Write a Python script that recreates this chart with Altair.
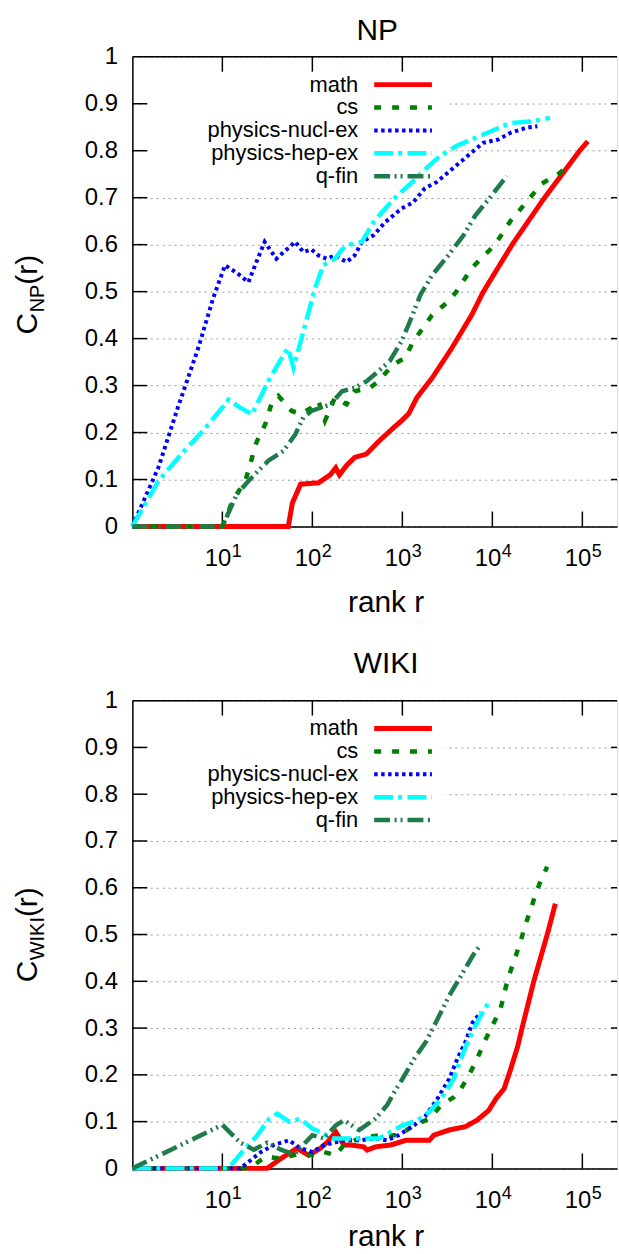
import altair as alt
import pandas as pd

SERIES = ["math", "cs", "physics-nucl-ex", "physics-hep-ex", "q-fin"]
COLORS = ["#ff0000", "#008000", "#0000ff", "#00ffff", "#1f7a4c"]
DASHES = [None, [7, 11], [3.5, 3.5], [19, 5, 4, 5.5], [16, 4.5, 2, 4, 2, 5]]
WIDTHS = [5, 4.5, 4, 4.5, 4.5]

# ---------------- NP panel ----------------
np_math_r = [1, 54, 60, 74, 117, 145, 158, 182, 200, 240, 295, 398, 537, 794, 977, 1175, 1445, 2138,
             3548, 5888, 7943, 16596, 38019, 93325, 114815]
np_math_c = [0, 0, 0.05, 0.09, 0.093, 0.105, 0.11, 0.125, 0.11, 0.13, 0.147, 0.154, 0.18, 0.21, 0.225,
             0.24, 0.274, 0.316, 0.38, 0.45, 0.5, 0.6, 0.7, 0.8, 0.82]

np_cs_r = [1, 10, 13, 18, 24, 30, 35, 42, 59, 74, 98, 117, 138, 178, 240, 295, 437, 537, 794, 1072,
           1318, 1585, 2138, 3236, 3981, 5888, 10700, 15849, 26300, 35500, 53703, 70795]
np_cs_c = [0, 0, 0.055, 0.097, 0.18, 0.218, 0.26, 0.278, 0.246, 0.24, 0.253, 0.267, 0.225, 0.274, 0.26,
           0.288, 0.295, 0.309, 0.345, 0.359, 0.394, 0.415, 0.45, 0.479, 0.5, 0.55, 0.6, 0.65, 0.7,
           0.73, 0.75, 0.768]

np_nucl_r = [1, 1.95, 3.2, 5.4, 7.9, 10.7, 14.5, 19.5, 24, 29.5, 39.8, 47.9, 64.6, 79.4, 97.7, 117, 145,
             178, 240, 295, 355, 479, 646, 977, 1318, 1778, 2399, 3236, 4365, 5888, 7943, 11749, 15849,
             23988, 31623]
np_nucl_c = [0, 0.126, 0.253, 0.38, 0.486, 0.556, 0.54, 0.52, 0.564, 0.606, 0.57, 0.584, 0.606, 0.584,
             0.59, 0.577, 0.57, 0.577, 0.563, 0.577, 0.606, 0.62, 0.648, 0.677, 0.69, 0.72, 0.733, 0.754,
             0.775, 0.796, 0.817, 0.824, 0.838, 0.849, 0.852]

np_hep_r = [1, 1.95, 3.5, 6.5, 10.7, 11.7, 15.8, 21.4, 32.4, 47.9, 53.7, 61.7, 79.4, 107, 132, 178, 214,
            263, 355, 479, 646, 871, 1175, 1778, 2630, 3981, 5888, 9772, 15849, 26303, 43652]
np_hep_c = [0, 0.097, 0.154, 0.21, 0.26, 0.27, 0.253, 0.239, 0.309, 0.366, 0.38, 0.338, 0.415, 0.507,
            0.556, 0.57, 0.59, 0.6, 0.606, 0.648, 0.677, 0.704, 0.726, 0.76, 0.789, 0.81, 0.824, 0.842,
            0.859, 0.862, 0.87]

np_qfin_r = [1, 10, 14.5, 19.5, 32.4, 47.9, 64.6, 79.4, 97.7, 158, 214, 295, 398, 537, 724, 977, 1175,
             1585, 2138, 3236, 4786, 6457, 9772, 14454]
np_qfin_c = [0, 0, 0.069, 0.097, 0.14, 0.161, 0.196, 0.232, 0.246, 0.26, 0.288, 0.295, 0.309, 0.33,
             0.352, 0.394, 0.43, 0.493, 0.535, 0.577, 0.62, 0.662, 0.704, 0.746]

# ---------------- WIKI panel ----------------
wk_math_r = [1, 31.6, 44.7, 67.6, 91.2, 123, 148, 182, 224, 269, 372, 407, 501, 741, 1096, 1995, 2239,
             3311, 5012, 6761, 9120, 10965, 13490, 15849, 19055, 21380, 28840, 40738, 50119]
wk_math_c = [0, 0, 0.021, 0.043, 0.028, 0.043, 0.057, 0.078, 0.05, 0.05, 0.046, 0.039, 0.046, 0.05,
             0.06, 0.06, 0.071, 0.082, 0.089, 0.103, 0.124, 0.149, 0.17, 0.21, 0.26, 0.3, 0.4, 0.5, 0.566]

wk_cs_r = [1, 20, 30.2, 44.7, 74, 100, 135, 182, 224, 331, 550, 912, 1349, 1995, 2692, 3715, 4467, 5495,
           6761, 8128, 10000, 12303, 14791, 18197, 21380, 23442, 26915, 30200, 34674, 40738]
wk_cs_c = [0, 0, 0.025, 0.021, 0.032, 0.028, 0.035, 0.028, 0.05, 0.064, 0.071, 0.071, 0.092, 0.106,
           0.135, 0.152, 0.17, 0.199, 0.234, 0.27, 0.305, 0.34, 0.404, 0.454, 0.496, 0.523, 0.555, 0.587,
           0.616, 0.645]

wk_nucl_r = [1, 15.8, 26.9, 37.2, 55, 74, 100, 135, 224, 331, 501, 676, 912, 1349, 1820, 2455, 3311,
             4074, 5012, 6026, 7413]
wk_nucl_c = [0, 0, 0.035, 0.05, 0.06, 0.043, 0.035, 0.05, 0.06, 0.06, 0.064, 0.06, 0.071, 0.092, 0.113,
             0.149, 0.191, 0.234, 0.27, 0.312, 0.333]

wk_hep_r = [1, 11.7, 16.6, 24.5, 33.1, 40.7, 55, 74, 100, 123, 166, 224, 372, 550, 741, 1000, 1479, 1995,
            2692, 3715, 4467, 5495, 7413, 9120]
wk_hep_c = [0, 0, 0.035, 0.071, 0.106, 0.117, 0.1, 0.106, 0.085, 0.078, 0.064, 0.064, 0.064, 0.064,
            0.078, 0.092, 0.103, 0.121, 0.149, 0.191, 0.234, 0.277, 0.326, 0.355]

wk_qfin_r = [1, 10, 15.8, 22.4, 31.6, 44.7, 63.1, 100, 135, 182, 224, 331, 501, 676, 813, 1000, 1349,
             1820, 2455, 3311, 4467, 6026, 7413]
wk_qfin_c = [0, 0.093, 0.055, 0.04, 0.055, 0.04, 0.03, 0.071, 0.064, 0.092, 0.103, 0.082, 0.106, 0.135,
             0.163, 0.191, 0.234, 0.27, 0.319, 0.369, 0.411, 0.454, 0.479]

X_TICKS = [10, 100, 1000, 10000, 100000]
X_EXP = ["1", "2", "3", "4", "5"]
Y_TICKS = [0.1, 0.2, 0.3, 0.4, 0.5, 0.6, 0.7, 0.8, 0.9]
Y_LABELS = [0, 0.1, 0.2, 0.3, 0.4, 0.5, 0.6, 0.7, 0.8, 0.9, 1]


def build_df(pairs):
    rows = []
    for s, (rs, cs) in zip(SERIES, pairs):
        for i, (r, c) in enumerate(zip(rs, cs)):
            rows.append({"series": s, "r": r, "C": c, "idx": i})
    return pd.DataFrame(rows)


np_df = build_df([(np_math_r, np_math_c), (np_cs_r, np_cs_c), (np_nucl_r, np_nucl_c),
                  (np_hep_r, np_hep_c), (np_qfin_r, np_qfin_c)])
wk_df = build_df([(wk_math_r, wk_math_c), (wk_cs_r, wk_cs_c), (wk_nucl_r, wk_nucl_c),
                  (wk_hep_r, wk_hep_c), (wk_qfin_r, wk_qfin_c)])

xt_df = pd.DataFrame({"r": X_TICKS, "e": X_EXP})
yt_df = pd.DataFrame({"v": Y_TICKS})
dummy = pd.DataFrame({"k": [0]})

W = 487
FONT = "Liberation Sans"
XS = alt.Scale(type="log", domain=[1, 242700], nice=False)
YS = alt.Scale(domain=[0, 1], nice=False, zero=False)
XAX = alt.Axis(labels=False, ticks=False, grid=False, domain=True, domainColor="black",
               domainWidth=1.5, title=None)
YAX = alt.Axis(values=Y_LABELS, format=".1~f", ticks=False, tickSize=0, domain=True,
               domainColor="black", domainWidth=1.5, labelFont=FONT, labelFontSize=24,
               labelColor="black", labelPadding=15, labelOverlap=False, labelFlush=False,
               grid=True, gridColor="#9a9a9a", gridDash=[2, 4], gridWidth=1, title=None)


def X(field):
    return alt.X(field, type="quantitative", scale=XS, axis=XAX)


def Y(field):
    return alt.Y(field, type="quantitative", scale=YS, axis=YAX)


def text_layer(txt, x, y, size, align="center", angle=0):
    props = dict(align=align, baseline="alphabetic", fontSize=size, font=FONT, color="black")
    if angle:
        props["angle"] = angle
    return alt.Chart(dummy).mark_text(**props).encode(
        x=alt.value(x), y=alt.value(y), text=alt.value(txt))


def panel(df, H, title, title_x, title_y, sub, sub_len, label_bottom, xlab_y, anchor):
    layers = []
    if anchor:
        layers.append(alt.Chart(dummy).mark_rect(opacity=0).encode(
            x=alt.value(-132), x2=alt.value(0), y=alt.value(-53), y2=alt.value(0)))
    # white key box hiding the grid behind the legend
    layers.append(alt.Chart(dummy).mark_rect(color="white").encode(
        x=alt.value(14), x2=alt.value(314), y=alt.value(10), y2=alt.value(132)))
    # inward ticks
    layers.append(alt.Chart(xt_df).mark_rule(color="black", strokeWidth=1.5).encode(
        x=X("r"), y=alt.value(H), y2=alt.value(H - 15)))
    layers.append(alt.Chart(xt_df).mark_rule(color="black", strokeWidth=1.5).encode(
        x=X("r"), y=alt.value(0), y2=alt.value(15)))
    layers.append(alt.Chart(yt_df).mark_rule(color="black", strokeWidth=1.5).encode(
        y=Y("v"), x=alt.value(0), x2=alt.value(15)))
    layers.append(alt.Chart(yt_df).mark_rule(color="black", strokeWidth=1.5).encode(
        y=Y("v"), x=alt.value(W - 6), x2=alt.value(W)))
    # top border
    layers.append(alt.Chart(dummy).mark_rule(color="black", strokeWidth=1.5).encode(
        x=alt.value(0), x2=alt.value(W), y=alt.value(0)))
    # data lines
    for i, s in enumerate(SERIES):
        props = dict(color=COLORS[i], strokeWidth=WIDTHS[i], strokeCap="butt", strokeJoin="miter")
        if DASHES[i]:
            props["strokeDash"] = DASHES[i]
        layers.append(alt.Chart(df).transform_filter(alt.datum.series == s).mark_line(**props).encode(
            x=X("r"), y=Y("C"), order="idx:Q"))
    # x tick labels 10^k
    layers.append(alt.Chart(xt_df).mark_text(align="right", baseline="alphabetic", fontSize=24,
                                              font=FONT, color="black", dx=9).encode(
        x=X("r"), y=alt.value(H + 40), text=alt.value("10")))
    layers.append(alt.Chart(xt_df).mark_text(align="left", baseline="alphabetic", fontSize=18,
                                              font=FONT, color="black", dx=9.5).encode(
        x=X("r"), y=alt.value(H + 31), text="e:N"))
    # legend (key)
    for i, s in enumerate(SERIES):
        yy = 28 + 23 * i
        props = dict(color=COLORS[i], strokeWidth=WIDTHS[i], strokeCap="butt")
        if DASHES[i]:
            props["strokeDash"] = DASHES[i]
        layers.append(alt.Chart(dummy).mark_rule(**props).encode(
            x=alt.value(243), x2=alt.value(301), y=alt.value(yy)))
        layers.append(alt.Chart(dummy).mark_text(align="right", baseline="middle", fontSize=22,
                                                 font=FONT, color="black").encode(
            x=alt.value(227), y=alt.value(yy), text=alt.value(s)))
    # titles
    layers.append(text_layer(title, title_x, title_y, 30))
    layers.append(text_layer("rank r", 255, H + xlab_y, 30))
    # y label C_sub(r)
    layers.append(text_layer("C", -96, label_bottom, 30, align="left", angle=270))
    layers.append(text_layer(sub, -89, label_bottom - 22.2, 20, align="left", angle=270))
    layers.append(text_layer("(r)", -96, label_bottom - 22.2 - sub_len, 30, align="left", angle=270))
    return alt.layer(*layers).properties(width=W, height=H)


top = panel(np_df, 472, "NP", 246, -17, "NP", 27.8, 279, 86, True)
bottom = panel(wk_df, 470, "WIKI", 255, -28, "WIKI", 43.3, 283, 78, False)

chart = alt.vconcat(top, bottom, spacing=175, bounds="flush").properties(
    padding=0, background="white").configure_view(stroke=None).configure(font=FONT)

chart.save("out.html", embed_options={"renderer": "svg", "actions": False})
